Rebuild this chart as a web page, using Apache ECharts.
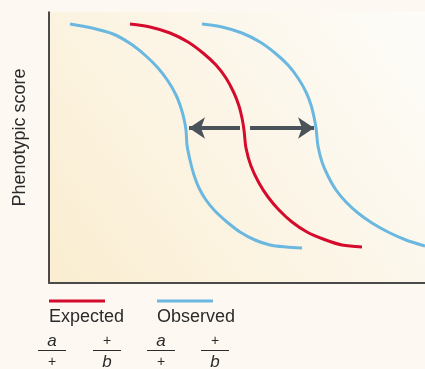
<!DOCTYPE html>
<html>
<head>
<meta charset="utf-8">
<script src="https://cdn.jsdelivr.net/npm/echarts@6/dist/echarts.min.js"></script>
<style>
html,body{margin:0;padding:0;background:#fdf9f2;}
#c{width:425px;height:369px;}
</style>
</head>
<body>
<div id="c"></div>
<script>
// Expected (a/+ , +/b) curve: [x, phenotypic score]
const expectedX = [81,101,121,139,154,167,177,185,190,193,195,197,202,210,219,230,243,258,274,293,313];
const expectedY = [259,256,250,241,230,218,205,190,177,165,153,135,117,100,86,73,61,51,44,38,36];
// Observed curve shifted left
const observedLeftX = [21,43,64,82,97,109,119,127,132,135,137,138,141,145,150,157,166,178,191,206,221,237,253];
const observedLeftY = [259,255,249,239,227,215,202,188,175,164,153,138,123,108,95,83,72,61,51,43,38,36,35];
// Observed curve shifted right
const observedRightX = [153,173,193,211,226,239,249,257,262,265,267,269,273,279,287,297,309,323,339,357,376];
const observedRightY = [259,256,250,241,230,218,205,191,178,166,155,137,121,107,93,81,70,60,51,43,37];
// Shift arrows: [fromX, toX], at score level
const arrowLevel = 155;
const arrowLeft = [191, 140];
const arrowRight = [201, 265];

const legendNames = ['Expected', 'Observed'];
const fracNum = ['a', '+', 'a', '+'];
const fracDen = ['+', 'b', '+', 'b'];

const RED = '#d40b2c', BLUE = '#6ab8e0', ARROW = '#4b535a';
const zip = (xs, ys) => xs.map((x, i) => [x, ys[i]]);

const chart = echarts.init(document.getElementById('c'));
const FONT = '"Liberation Sans", Arial, sans-serif';

const fracCx = [52, 107, 161, 215];
const graphics = [
  {type:'line', shape:{x1:49,y1:301,x2:105,y2:301}, style:{stroke:RED, lineWidth:3}},
  {type:'line', shape:{x1:157,y1:301,x2:213,y2:301}, style:{stroke:BLUE, lineWidth:3}},
  {type:'text', left:49, top:308, style:{text:legendNames[0], font:'18px '+FONT, fill:'#2b2b2b'}},
  {type:'text', left:157, top:308, style:{text:legendNames[1], font:'18px '+FONT, fill:'#2b2b2b'}}
];
fracCx.forEach((cx, i) => {
  const isLetterN = /[a-z]/.test(fracNum[i]);
  const isLetterD = /[a-z]/.test(fracDen[i]);
  graphics.push({type:'text', x:cx, y:341, style:{text:fracNum[i], align:'center', verticalAlign:'middle',
    font:(isLetterN ? 'italic 17px ' : '14px ') + FONT, fill:'#2b2b2b'}});
  graphics.push({type:'line', shape:{x1:cx-14,y1:350.5,x2:cx+14,y2:350.5}, style:{stroke:'#2b2b2b', lineWidth:1}});
  graphics.push({type:'text', x:cx, y:362, style:{text:fracDen[i], align:'center', verticalAlign:'middle',
    font:(isLetterD ? 'italic 17px ' : '14px ') + FONT, fill:'#2b2b2b'}});
});

const curve = (name, data, color) => ({
  type:'line', name, data, smooth:0.3, showSymbol:false, symbol:'none',
  lineStyle:{color, width:3}, itemStyle:{color}, clip:true, z:3
});

chart.setOption({
  animation:false,
  backgroundColor:'#fdf9f2',
  grid:{left:49, top:12, right:0, bottom:86, show:true, borderWidth:0,
    backgroundColor:new echarts.graphic.LinearGradient(0,1,1,0,[
      {offset:0, color:'#faedd0'},{offset:0.5, color:'#fcf5e6'},{offset:1, color:'#fdfcf9'}])},
  xAxis:{type:'value', min:0, max:376, axisLine:{show:true, onZero:false, lineStyle:{color:'#4a4a4a', width:2}},
    axisTick:{show:false}, axisLabel:{show:false}, splitLine:{show:false}},
  yAxis:{type:'value', min:0, max:271, axisLine:{show:true, onZero:false, lineStyle:{color:'#111', width:1.5}},
    axisTick:{show:false}, axisLabel:{show:false}, splitLine:{show:false},
    name:'Phenotypic score', nameLocation:'middle', nameGap:20, nameRotate:90,
    nameTextStyle:{fontFamily:FONT, fontSize:18, color:'#2b2b2b', padding:[0,0,0,20]}},
  series:[
    curve('Observed', zip(observedLeftX, observedLeftY), BLUE),
    curve('Expected', zip(expectedX, expectedY), RED),
    curve('Observed', zip(observedRightX, observedRightY), BLUE),
    {type:'lines', coordinateSystem:'cartesian2d', z:4,
      symbol:['none','arrow'], symbolSize:[14,16],
      lineStyle:{color:ARROW, width:4, opacity:1, curveness:0},
      data:[
        {coords:[[arrowLeft[0], arrowLevel],[arrowLeft[1], arrowLevel]]},
        {coords:[[arrowRight[0], arrowLevel],[arrowRight[1], arrowLevel]]}
      ]}
  ],
  graphic:graphics
});
</script>
</body>
</html>
